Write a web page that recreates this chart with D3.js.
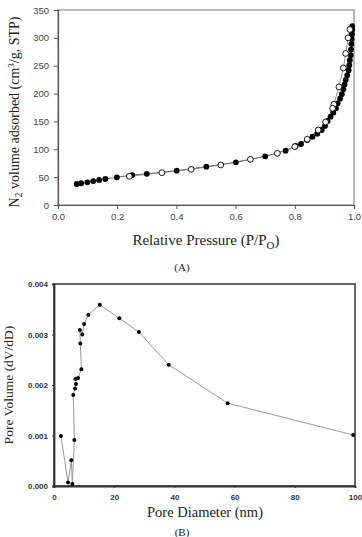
<!DOCTYPE html>
<html><head><meta charset="utf-8">
<script src="https://cdn.jsdelivr.net/npm/d3@7"></script>
<style>body{margin:0;background:#fff}svg{display:block}</style>
</head><body>
<script>
// Panel A: N2 isotherm
const adsX = [0.063,0.078,0.099,0.119,0.139,0.16,0.199,0.251,0.30,0.401,0.501,0.601,0.70,0.769,0.803,0.821,0.842,0.86,0.876,0.891,0.902,0.911,0.921,0.93,0.939,0.945,0.953,0.959,0.964,0.968,0.972,0.977,0.982,0.984,0.986,0.989,0.99,0.991,0.992,0.993,0.994,0.994];
const adsY = [37.7,39,40.7,43,45,46.7,49.7,53.8,56,61.6,68.8,76.6,87.4,97.5,106,109.5,116.7,122.6,128,134.6,142,150.8,158.5,165.7,173.5,182.5,190.8,199,207.6,216,224.4,233,242,251,260,269,279,289,298,307,315,321];
const desX = [0.986,0.980,0.972,0.964,0.949,0.932,0.928,0.904,0.879,0.842,0.80,0.741,0.65,0.55,0.45,0.351,0.241];
const desY = [315,300,272,246,212,180.7,173.5,149,134.6,118,104.7,92.7,82,71.8,64,58,51.5];
const aXTicks = [0.0,0.2,0.4,0.6,0.8,1.0];
const aYTicks = [0,50,100,150,200,250,300,350];

// Panel B: pore size distribution
const poreD = [2.3,4.65,5.76,6.1,6.76,6.4,7.0,7.3,7.1,8.0,9.1,8.75,8.6,9.4,10,11.4,15.2,21.7,28.2,38.1,57.7,99.4];
const poreV = [0.00099,0.00007,0.00051,0.00004,0.00091,0.0018,0.00193,0.00202,0.00212,0.00214,0.00231,0.00282,0.00309,0.00300,0.00321,0.00339,0.00359,0.00332,0.00305,0.00240,0.00164,0.00101];
const bXTicks = [0,20,40,60,80,100];
const bYTicks = [0,0.001,0.002,0.003,0.004];

const W=362,H=537;
const svg=d3.select("body").append("svg").attr("width",W).attr("height",H);
const serif="'Liberation Serif', serif";
const sans="'Liberation Sans', sans-serif";

// ---------- Panel A ----------
const xa=d3.scaleLinear().domain([0,1]).range([58,354]);
const ya=d3.scaleLinear().domain([0,350]).range([205,10]);
const gA=svg.append("g");
gA.append("rect").attr("x",58).attr("y",10).attr("width",296).attr("height",195)
  .attr("fill","none").attr("stroke","#8a8a8a").attr("stroke-width",1.2);
const axA=gA.append("g").attr("transform","translate(0,205)")
  .call(d3.axisBottom(xa).tickValues(aXTicks).tickFormat(d3.format(".1f")).tickSize(4).tickPadding(4));
const ayA=gA.append("g").attr("transform","translate(58,0)")
  .call(d3.axisLeft(ya).tickValues(aYTicks).tickFormat(d3.format("d")).tickSize(4).tickPadding(5));
[axA,ayA].forEach(a=>{
  a.select(".domain").attr("stroke","#555").attr("stroke-width",1.2);
  a.selectAll(".tick line").attr("stroke","#555");
  a.selectAll("text").style("font-family",sans).attr("font-size","9.5px").attr("fill","#444");
});
const lineA=d3.line().x(d=>xa(d[0])).y(d=>ya(d[1]));
const ads=adsX.map((x,i)=>[x,adsY[i]]);
const des=desX.map((x,i)=>[x,desY[i]]);
gA.append("path").datum(ads).attr("d",lineA).attr("fill","none").attr("stroke","#444").attr("stroke-width",0.8);
gA.append("path").datum(des).attr("d",lineA).attr("fill","none").attr("stroke","#777").attr("stroke-width",0.8);
gA.selectAll("circle.ads").data(ads).enter().append("circle")
  .attr("cx",d=>xa(d[0])).attr("cy",d=>ya(d[1])).attr("r",2.9).attr("fill","#000");
gA.selectAll("circle.des").data(des).enter().append("circle")
  .attr("cx",d=>xa(d[0])).attr("cy",d=>ya(d[1])).attr("r",2.9).attr("fill","#fff").attr("stroke","#000").attr("stroke-width",0.9);

const xlA=gA.append("text").attr("x",206).attr("y",245).attr("text-anchor","middle")
  .style("font-family",serif).attr("font-size","15px").attr("fill","#222");
xlA.append("tspan").text("Relative Pressure (P/P");
xlA.append("tspan").attr("font-size","11px").attr("dy",4).text("O");
xlA.append("tspan").attr("dy",-4).text(")");
const ylA=gA.append("text").attr("transform","translate(19,112) rotate(-90)").attr("text-anchor","middle")
  .style("font-family",serif).attr("font-size","14px").attr("fill","#222");
ylA.append("tspan").text("N");
ylA.append("tspan").attr("font-size","10px").attr("dy",3).text("2");
ylA.append("tspan").attr("dy",-3).text(" volume adsorbed (cm");
ylA.append("tspan").attr("font-size","9px").attr("dy",-5).text("3");
ylA.append("tspan").attr("dy",5).text("/g, STP)");
gA.append("text").attr("x",182).attr("y",271).attr("text-anchor","middle")
  .style("font-family",serif).attr("font-size","11px").attr("fill","#222").text("(A)");

// ---------- Panel B ----------
const xb=d3.scaleLinear().domain([0,100]).range([54,355]);
const yb=d3.scaleLinear().domain([0,0.004]).range([486,284]);
const gB=svg.append("g");
gB.append("rect").attr("x",54).attr("y",284).attr("width",301).attr("height",202)
  .attr("fill","none").attr("stroke","#555").attr("stroke-width",1.8);
const axB=gB.append("g").attr("transform","translate(0,486)")
  .call(d3.axisBottom(xb).tickValues(bXTicks).tickFormat(d3.format("d")).tickSize(2).tickPadding(6));
const ayB=gB.append("g").attr("transform","translate(54,0)")
  .call(d3.axisLeft(yb).tickValues(bYTicks).tickFormat(d3.format(".3f")).tickSize(2).tickPadding(4));
[axB,ayB].forEach(a=>{
  a.select(".domain").attr("stroke","#333").attr("stroke-width",1.8);
  a.selectAll(".tick line").attr("stroke","#333");
  a.selectAll("text").style("font-family",sans).attr("font-size","8px")
    .attr("font-weight","bold").attr("fill","#333");
});
const pts=poreD.map((x,i)=>[x,poreV[i]]);
gB.append("path").datum(pts).attr("d",d3.line().x(d=>xb(d[0])).y(d=>yb(d[1])))
  .attr("fill","none").attr("stroke","#999").attr("stroke-width",1);
gB.selectAll("circle").data(pts).enter().append("circle")
  .attr("cx",d=>xb(d[0])).attr("cy",d=>yb(d[1])).attr("r",2).attr("fill","#000");

gB.append("text").attr("x",205).attr("y",517).attr("text-anchor","middle")
  .style("font-family",serif).attr("font-size","14.5px").attr("fill","#222").text("Pore Diameter (nm)");
gB.append("text").attr("transform","translate(13,385) rotate(-90)").attr("text-anchor","middle")
  .style("font-family",serif).attr("font-size","13.5px").attr("fill","#222").text("Pore Volume (dV/dD)");
gB.append("text").attr("x",182).attr("y",536).attr("text-anchor","middle")
  .style("font-family",serif).attr("font-size","11px").attr("fill","#222").text("(B)");
</script>
</body></html>
